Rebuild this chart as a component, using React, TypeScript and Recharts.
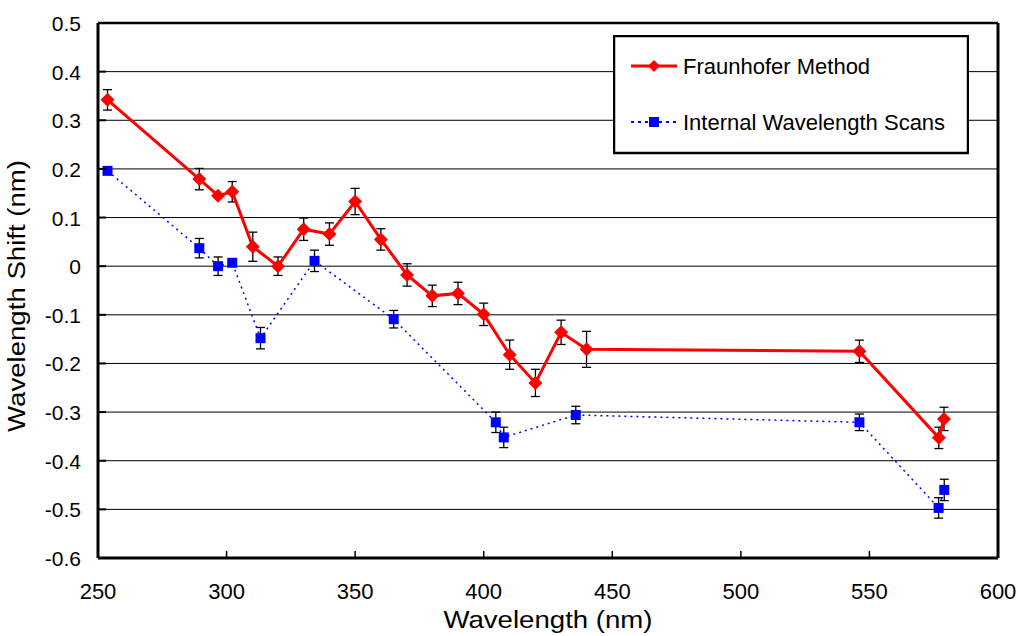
import {
  CartesianGrid,
  ErrorBar,
  Label,
  ReferenceLine,
  Scatter,
  ScatterChart,
  XAxis,
  YAxis,
} from 'recharts';

// Fraunhofer method: wavelength (nm), shift (nm), error (nm)
const fraunhoferNm = [
  253.7, 289.4, 296.7, 302.2, 310.2, 320.0, 330.0, 340.0, 350.0, 360.0, 370.2,
  380.0, 390.0, 400.0, 410.1, 420.1, 430.1, 440.0, 546.1, 577.0, 579.0,
];
const fraunhoferShift = [
  0.342, 0.179, 0.145, 0.153, 0.04, 0.0, 0.076, 0.066, 0.133, 0.055, -0.018,
  -0.061, -0.056, -0.099, -0.182, -0.24, -0.136, -0.171, -0.175, -0.353, -0.314,
];
const fraunhoferErr = [
  0.021, 0.022, 0, 0.021, 0.03, 0.019, 0.023, 0.023, 0.027, 0.022, 0.023,
  0.022, 0.023, 0.023, 0.03, 0.028, 0.025, 0.037, 0.023, 0.022, 0.024,
];

// internal wavelength scans
const internalNm = [
  253.7, 289.4, 296.7, 302.2, 313.2, 334.2, 365.0, 404.7, 407.8, 435.8, 546.1,
  576.9, 579.1,
];
const internalShift = [
  0.196, 0.037, 0.0, 0.007, -0.148, 0.011, -0.109, -0.321, -0.352, -0.306,
  -0.321, -0.497, -0.46,
];
const internalErr = [
  0, 0.02, 0.019, 0, 0.022, 0.022, 0.018, 0.021, 0.021, 0.018, 0.017, 0.021,
  0.022,
];

const xTicks = [250, 300, 350, 400, 450, 500, 550, 600];
const yTicks = [0.5, 0.4, 0.3, 0.2, 0.1, 0, -0.1, -0.2, -0.3, -0.4, -0.5, -0.6];

const fraunhofer = fraunhoferNm.map((nm, i) => ({
  nm,
  shift: fraunhoferShift[i],
  err: fraunhoferErr[i],
}));
const internal = internalNm.map((nm, i) => ({
  nm,
  shift: internalShift[i],
  err: internalErr[i],
}));

const PLOT_LEFT = 98;
const PLOT_BOTTOM = 558;

const fmtY = (v: number) => (v === 0 ? '0' : v.toFixed(1));

function Diamond(props: any) {
  const { cx, cy } = props;
  const r = 7;
  return (
    <polygon
      points={`${cx},${cy - r} ${cx + r},${cy} ${cx},${cy + r} ${cx - r},${cy}`}
      fill="#ff0000"
    />
  );
}

function Square(props: any) {
  const { cx, cy } = props;
  return <rect x={cx - 5} y={cy - 5} width={10} height={10} fill="#0000ff" />;
}

function YTick(props: any) {
  const y = props.y;
  return (
    <g>
      <line x1={PLOT_LEFT} x2={PLOT_LEFT + 8} y1={y} y2={y} stroke="#000" strokeWidth={2} />
      <text x={81} y={y + 8} textAnchor="end" fontSize={21} fill="#000">
        {fmtY(props.payload.value)}
      </text>
    </g>
  );
}

function XTick(props: any) {
  const x = props.x;
  return (
    <g>
      <line x1={x} x2={x} y1={PLOT_BOTTOM} y2={PLOT_BOTTOM - 7} stroke="#000" strokeWidth={1.5} />
      <text x={x} y={599} textAnchor="middle" fontSize={22} fill="#000">
        {props.payload.value}
      </text>
    </g>
  );
}

function LegendBox() {
  return (
    <svg
      width={356}
      height={120}
      style={{ position: 'absolute', left: 613, top: 35 }}
    >
      <rect x={1} y={1} width={354} height={117} fill="#fff" stroke="#000" strokeWidth={2.5} />
      <line x1={18} x2={64} y1={31} y2={31} stroke="#ff0000" strokeWidth={3} />
      <polygon points="41,25 47,31 41,37 35,31" fill="#ff0000" />
      <text x={70} y={39} fontSize={22} fill="#000">
        Fraunhofer Method
      </text>
      <line
        x1={18}
        x2={64}
        y1={87}
        y2={87}
        stroke="#0000ff"
        strokeWidth={2}
        strokeDasharray="3 4"
      />
      <rect x={36} y={82} width={10} height={10} fill="#0000ff" />
      <text x={70} y={95} fontSize={22} fill="#000">
        Internal Wavelength Scans
      </text>
    </svg>
  );
}

export default function App() {
  return (
    <div
      style={{
        position: 'absolute',
        left: 0,
        top: 0,
        width: 1018,
        height: 636,
        background: '#fff',
        fontFamily: '"Liberation Sans", Arial, sans-serif',
      }}
    >
      <ScatterChart
        width={1018}
        height={636}
        margin={{ top: 23, right: 20, bottom: 0, left: 0 }}
      >
        <CartesianGrid vertical={false} stroke="#000" strokeWidth={1} />
        <XAxis
          dataKey="nm"
          type="number"
          domain={[250, 600]}
          ticks={xTicks}
          height={78}
          axisLine={{ stroke: '#000', strokeWidth: 3 }}
          tickLine={false}
          tick={<XTick />}
        >
          <Label
            content={() => (
              <text
                transform="translate(548,628) scale(1.15,1)"
                textAnchor="middle"
                fontSize={24}
                fill="#000"
              >
                Wavelength (nm)
              </text>
            )}
          />
        </XAxis>
        <YAxis
          dataKey="shift"
          type="number"
          domain={[-0.6, 0.5]}
          ticks={yTicks}
          width={98}
          axisLine={{ stroke: '#000', strokeWidth: 3 }}
          tickLine={false}
          tick={<YTick />}
        >
          <Label
            content={() => (
              <text
                transform="translate(25,296) rotate(-90) scale(1.15,1)"
                textAnchor="middle"
                fontSize={24}
                fill="#000"
              >
                Wavelength Shift (nm)
              </text>
            )}
          />
        </YAxis>
        <ReferenceLine y={0.5} stroke="#000" strokeWidth={2.5} />
        <ReferenceLine x={600} stroke="#000" strokeWidth={3} />
        <Scatter
          name="Internal Wavelength Scans"
          data={internal}
          fill="#0000ff"
          line={{ stroke: '#0000ff', strokeWidth: 1.5, strokeDasharray: '2 4' }}
          lineJointType="linear"
          shape={<Square />}
          isAnimationActive={false}
        >
          <ErrorBar dataKey="err" direction="y" width={4.5} stroke="#000" strokeWidth={1.3} />
        </Scatter>
        <Scatter
          name="Fraunhofer Method"
          data={fraunhofer}
          fill="#ff0000"
          line={{ stroke: '#ff0000', strokeWidth: 3 }}
          lineJointType="linear"
          shape={<Diamond />}
          isAnimationActive={false}
        >
          <ErrorBar dataKey="err" direction="y" width={4.5} stroke="#000" strokeWidth={1.3} />
        </Scatter>
      </ScatterChart>
      <LegendBox />
    </div>
  );
}
